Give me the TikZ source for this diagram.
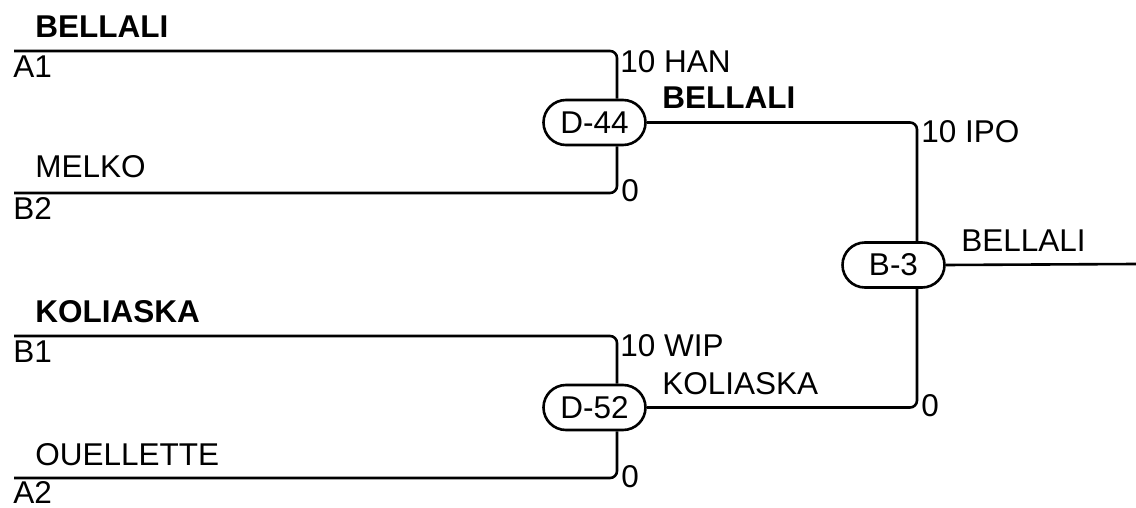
\documentclass[tikz,border=0pt]{standalone}
\usepackage{fontspec}
\setmainfont{Liberation Sans}
\usetikzlibrary{shapes.misc}
\begin{document}
\begin{tikzpicture}[x=1bp,y=-1bp,line width=2.6bp,
  every node/.style={font=\fontsize{31.5bp}{38bp}\selectfont},
  match/.style={draw,rounded rectangle,minimum width=102bp,minimum height=45bp,inner sep=0pt,fill=white},
  lbl/.style={anchor=base west,inner sep=0pt},
  win/.style={lbl,font=\fontsize{31.5bp}{38bp}\selectfont\bfseries},
  conn/.style={rounded corners=7bp}]
\useasboundingbox (0,0) rectangle (1136,508);
% matches
\node[match] (D44) at (594.5,122.5) {D-44};
\node[match] (D52) at (594.5,407.5) {D-52};
\node[match] (B3) at (893.5,265) {B-3};
% free ends
\coordinate (a1) at (14,51);
\coordinate (b2) at (14,193);
\coordinate (b1) at (14,336);
\coordinate (a2) at (14,478);
\coordinate (out) at (1136,264);
% connectors
\draw[conn] (a1) -| ([xshift=22.5bp]D44.north);
\draw[conn] (b2) -| ([xshift=22.5bp]D44.south);
\draw[conn] (b1) -| ([xshift=22.5bp]D52.north);
\draw[conn] (a2) -| ([xshift=22.5bp]D52.south);
\draw[conn] (D44.east) -| ([xshift=23.5bp]B3.north);
\draw[conn] (D52.east) -| ([xshift=23.5bp]B3.south);
\draw (B3.east) -- (out);
% left labels
\node[win] (n1) at (34,38) {BELLALI};
\node[lbl] (s1) at (12,78) {A1};
\node[lbl] (n2) at (34,178) {MELKO};
\node[lbl] (s2) at (12,220) {B2};
\node[win] (n3) at (34,323) {KOLIASKA};
\node[lbl] (s3) at (12,363) {B1};
\node[lbl] (n4) at (34,465) {OUELLETTE};
\node[lbl] (s4) at (12,503) {A2};
% scores and winners
\node[lbl] (sc1) at (619,73) {10 HAN};
\node[lbl] (sc2) at (620,202) {0};
\node[win] (w1) at (661,109) {BELLALI};
\node[lbl] (sc3) at (619,357) {10 WIP};
\node[lbl] (sc4) at (620,487) {0};
\node[lbl] (w2) at (661,394) {KOLIASKA};
\node[lbl] (sc5) at (920,143) {10 IPO};
\node[lbl] (sc6) at (920,416) {0};
\node[lbl] (w3) at (960,252) {BELLALI};
\end{tikzpicture}
\end{document}
